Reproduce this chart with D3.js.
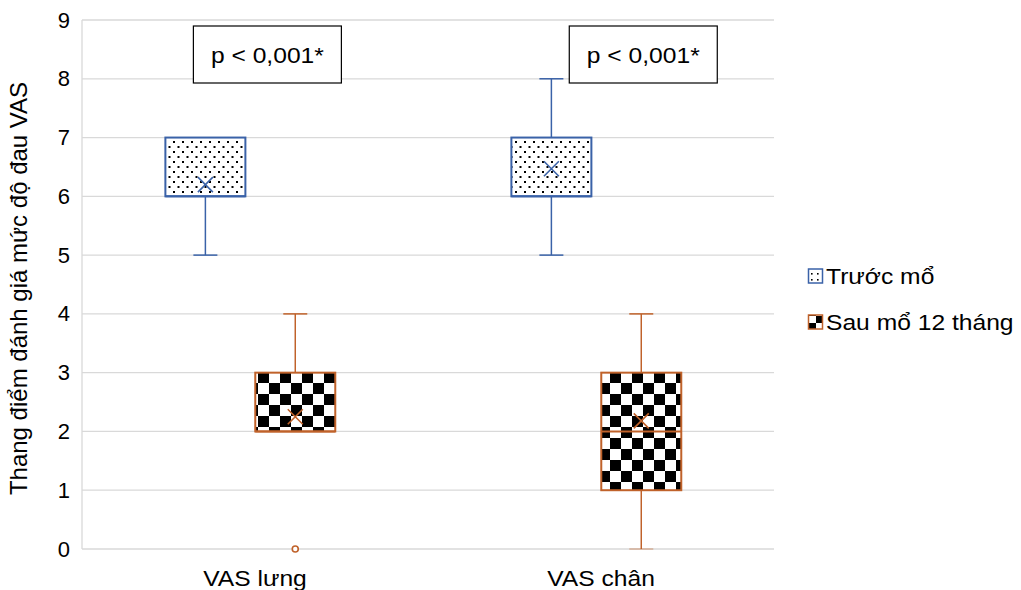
<!DOCTYPE html>
<html><head><meta charset="utf-8">
<script src="https://cdn.jsdelivr.net/npm/d3@7"></script>
<style>body{margin:0;background:#fff}svg{display:block}text{font-family:"Liberation Sans",Arial,sans-serif}</style>
</head><body><svg id="c" width="1021" height="590"></svg>
<script>
const categories = ["VAS lưng", "VAS chân"];
const series = ["Trước mổ", "Sau mổ 12 tháng"];
const yTicks = [0,1,2,3,4,5,6,7,8,9];
// per series, per category
const whiskerLow = [[5, 5], [2, 0]];
const q1 =         [[6, 6], [2, 1]];
const median =     [[6, 6], [2, 2]];
const q3 =         [[7, 7], [3, 3]];
const whiskerHigh =[[7, 8], [4, 4]];
const means =      [[6.2, 6.47], [2.25, 2.18]];
const outliers =   [[[], []], [[0], []]];
const pLabels = ["p < 0,001*", "p < 0,001*"];
const colors = ["#3A62A8", "#C0622A"];

const svg = d3.select("#c");
const m = {l: 82, r: 247, t: 20, b: 41};
const W = 1021 - m.l - m.r, H = 590 - m.t - m.b;
const g = svg.append("g").attr("transform", `translate(${m.l},${m.t})`);
const FS = 22, SX = 1.12;

const defs = svg.append("defs");
const pd = defs.append("pattern").attr("id","dots").attr("patternUnits","userSpaceOnUse").attr("width",9).attr("height",10);
pd.append("rect").attr("width",9).attr("height",10).attr("fill","#fff");
pd.append("rect").attr("x",1).attr("y",1).attr("width",2).attr("height",2).attr("fill","#000");
pd.append("rect").attr("x",5.5).attr("y",6).attr("width",2).attr("height",2).attr("fill","#000");
const pc = defs.append("pattern").attr("id","checks").attr("patternUnits","userSpaceOnUse").attr("width",22).attr("height",22);
pc.append("rect").attr("width",22).attr("height",22).attr("fill","#fff");
pc.append("rect").attr("width",11).attr("height",11).attr("fill","#000");
pc.append("rect").attr("x",11).attr("y",11).attr("width",11).attr("height",11).attr("fill","#000");
const ld = defs.append("pattern").attr("id","ldots").attr("patternUnits","userSpaceOnUse").attr("width",6).attr("height",6).attr("x",1).attr("y",1);
ld.append("rect").attr("width",6).attr("height",6).attr("fill","#fff");
ld.append("rect").attr("x",2).attr("y",2).attr("width",1.6).attr("height",1.6).attr("fill","#000");
const lc = defs.append("pattern").attr("id","lchecks").attr("patternUnits","userSpaceOnUse").attr("width",14).attr("height",14).attr("x",1).attr("y",1);
lc.append("rect").attr("width",14).attr("height",14).attr("fill","#fff");
lc.append("rect").attr("width",7).attr("height",7).attr("fill","#000");
lc.append("rect").attr("x",7).attr("y",7).attr("width",7).attr("height",7).attr("fill","#000");
const fills = ["url(#dots)", "url(#checks)"];
const legendFills = ["url(#ldots)", "url(#lchecks)"];

const y = d3.scaleLinear().domain([0, 9]).range([H, 0]);
const x0 = d3.scaleBand().domain(categories).range([0, W]);
const bw = x0.bandwidth();
const x1 = d3.scaleBand().domain(series).range([bw*0.241, bw*0.732]).paddingInner(0.11);

g.append("g").selectAll("line").data(yTicks).join("line")
  .attr("x1",0).attr("x2",W).attr("y1",d=>y(d)).attr("y2",d=>y(d))
  .attr("stroke","#d9d9d9").attr("stroke-width",1.3);
g.append("line").attr("x1",0).attr("x2",0).attr("y1",0).attr("y2",H).attr("stroke","#d9d9d9").attr("stroke-width",1.3);

const ya = g.append("g").call(d3.axisLeft(y).tickValues(yTicks).tickSize(0).tickPadding(12));
ya.select(".domain").remove();
ya.selectAll("text").attr("font-size",FS).attr("fill","#000").attr("font-family","Liberation Sans, Arial, sans-serif");

const xa = g.append("g").attr("transform",`translate(0,${H})`).call(d3.axisBottom(x0).tickSize(0).tickPadding(21));
xa.select(".domain").remove();
xa.selectAll("text").attr("font-size",FS).attr("fill","#000").attr("font-family","Liberation Sans, Arial, sans-serif")
  .attr("transform",`scale(${SX},1)`).attr("x", 0);

svg.append("text").attr("transform",`translate(27,${m.t + H/2 + 4}) rotate(-90)`)
  .attr("text-anchor","middle").attr("font-size",24).attr("fill","#000")
  .text("Thang điểm đánh giá mức độ đau VAS");

const bwid = x1.bandwidth();
const capW = 24;
const centers = [[],[]];
series.forEach((s, si) => {
  categories.forEach((c, ci) => {
    const cx = x0(c) + x1(s) + bwid/2;
    centers[si][ci] = cx;
    const bx = x0(c) + x1(s);
    const col = colors[si];
    const bg = g.append("g");
    if (whiskerHigh[si][ci] > q3[si][ci]) {
      bg.append("line").attr("x1",cx).attr("x2",cx).attr("y1",y(q3[si][ci])).attr("y2",y(whiskerHigh[si][ci])).attr("stroke",col).attr("stroke-width",1.5);
      bg.append("line").attr("x1",cx-capW/2).attr("x2",cx+capW/2).attr("y1",y(whiskerHigh[si][ci])).attr("y2",y(whiskerHigh[si][ci])).attr("stroke",col).attr("stroke-width",1.5);
    }
    if (whiskerLow[si][ci] < q1[si][ci]) {
      bg.append("line").attr("x1",cx).attr("x2",cx).attr("y1",y(q1[si][ci])).attr("y2",y(whiskerLow[si][ci])).attr("stroke",col).attr("stroke-width",1.5);
      bg.append("line").attr("x1",cx-capW/2).attr("x2",cx+capW/2).attr("y1",y(whiskerLow[si][ci])).attr("y2",y(whiskerLow[si][ci])).attr("stroke",col).attr("stroke-width",1.5).attr("stroke-opacity", whiskerLow[si][ci]===0?0.4:1);
    }
    bg.append("rect").attr("x",bx).attr("y",y(q3[si][ci])).attr("width",bwid).attr("height",y(q1[si][ci])-y(q3[si][ci]))
      .attr("fill",fills[si]).attr("stroke",col).attr("stroke-width",2);
    bg.append("line").attr("x1",bx).attr("x2",bx+bwid).attr("y1",y(median[si][ci])).attr("y2",y(median[si][ci])).attr("stroke",col).attr("stroke-width",2);
    const my = y(means[si][ci]), r = 7.5;
    bg.append("path").attr("d",`M${cx-r},${my-r}L${cx+r},${my+r}M${cx-r},${my+r}L${cx+r},${my-r}`).attr("stroke",col).attr("stroke-width",1.6).attr("fill","none");
    outliers[si][ci].forEach(o => {
      bg.append("circle").attr("cx",cx).attr("cy",y(o)).attr("r",3).attr("fill","#fff").attr("stroke",col).attr("stroke-width",1.6);
    });
  });
});

// p-value boxes: first anchored right of pre-op box, second right of post-op box
const pAnchors = [centers[0][0] + 62, centers[1][1] + 2];
categories.forEach((c, ci) => {
  const cx = pAnchors[ci];
  const bxw = 148, bxh = 57;
  g.append("rect").attr("x",cx-bxw/2).attr("y",6).attr("width",bxw).attr("height",bxh)
    .attr("fill","#fff").attr("stroke","#000").attr("stroke-width",1.2);
  g.append("text").attr("transform",`translate(${cx},${6+bxh/2+8}) scale(${SX},1)`).attr("text-anchor","middle").attr("font-size",FS).attr("fill","#000").text(pLabels[ci]);
});

const lg = svg.append("g").attr("transform","translate(808,0)");
const legY = [276, 322];
series.forEach((s, si) => {
  lg.append("rect").attr("x",0.5).attr("y",legY[si]-7).attr("width",14).attr("height",14)
    .attr("fill",legendFills[si]).attr("stroke",colors[si]).attr("stroke-width",1.5);
  lg.append("text").attr("transform",`translate(18,${legY[si]+8}) scale(${SX},1)`).attr("font-size",FS).attr("fill","#000").text(s);
});
</script></body></html>
